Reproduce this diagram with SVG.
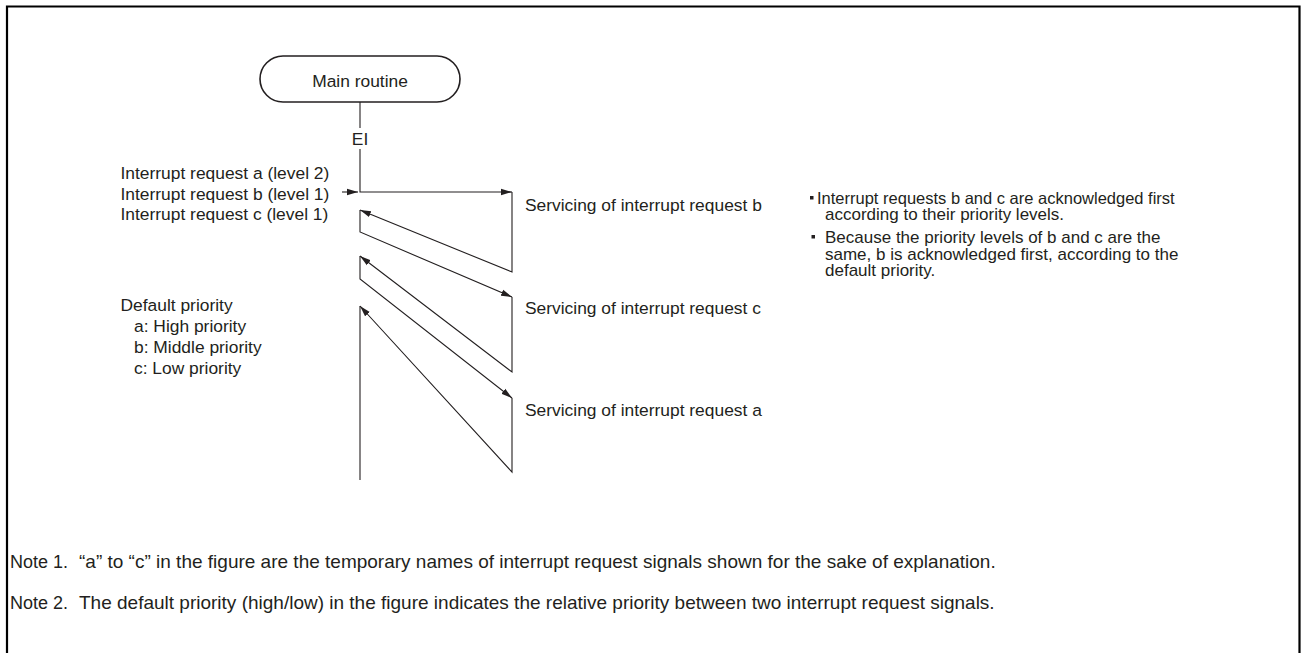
<svg xmlns="http://www.w3.org/2000/svg" width="1301" height="653" viewBox="0 0 1301 653">
<style>
text{font-family:"Liberation Sans",Arial,Helvetica,sans-serif;font-size:17.4px;fill:#231f20}
.b{font-size:17px}
.n{font-size:18px}
.nb{font-size:19px}
.c{stroke:#231f20;stroke-width:1.1;fill:none}
.frame{stroke:#000;stroke-width:2.2;fill:none}
.node{stroke:#231f20;stroke-width:1.6;fill:#fff}
</style>
<defs>
<marker id="ah" markerUnits="userSpaceOnUse" markerWidth="11" markerHeight="8" refX="11" refY="4" orient="auto">
<path d="M0,0.8 L11,4 L0,7.2 z" fill="#231f20"/>
</marker>
</defs>
<rect width="1301" height="653" fill="#fff"/>
<path class="frame" d="M7,653 V6.5 H1299.5 V653"/>
<g id="connectors">
<line class="c" x1="360" y1="102" x2="360" y2="128"/>
<path class="c" d="M360,149 V192 H512" marker-end="url(#ah)"/>
<path class="c" d="M342,192 H358" marker-end="url(#ah)"/>
<path class="c" d="M512,192 V272 L360,210" marker-end="url(#ah)"/>
<path class="c" d="M360,210 V232 L512,297" marker-end="url(#ah)"/>
<path class="c" d="M512,297 V372 L360,256" marker-end="url(#ah)"/>
<path class="c" d="M360,256 V279 L512,398" marker-end="url(#ah)"/>
<path class="c" d="M512,398 V472 L360,306" marker-end="url(#ah)"/>
<path class="c" d="M360,306 V480"/>
</g>
<g id="main-routine">
<rect class="node" x="260" y="56" width="200" height="46" rx="23" ry="23"/>
<text x="360" y="87" text-anchor="middle">Main routine</text>
</g>
<g id="ei">
<text x="360" y="145" text-anchor="middle">EI</text>
</g>
<g id="requests">
<text x="120.5" y="179">Interrupt request a (level 2)</text>
<text x="120.5" y="199.5">Interrupt request b (level 1)</text>
<text x="120.5" y="220">Interrupt request c (level 1)</text>
</g>
<g id="default-priority">
<text x="120.5" y="311">Default priority</text>
<text x="134" y="332">a: High priority</text>
<text x="134" y="353">b: Middle priority</text>
<text x="134" y="374">c: Low priority</text>
</g>
<g id="servicing-b"><text x="525" y="211">Servicing of interrupt request b</text></g>
<g id="servicing-c"><text x="525" y="314">Servicing of interrupt request c</text></g>
<g id="servicing-a"><text x="525" y="416">Servicing of interrupt request a</text></g>
<g id="remarks">
<rect x="810" y="196" width="3.5" height="3.5" fill="#231f20"/>
<text x="817" y="204" style="font-size:16.5px">Interrupt requests b and c are acknowledged first</text>
<text class="b" x="825" y="220">according to their priority levels.</text>
<rect x="811.5" y="235" width="3.5" height="3.5" fill="#231f20"/>
<text class="b" x="825" y="243">Because the priority levels of b and c are the</text>
<text class="b" x="825" y="259.5">same, b is acknowledged first, according to the</text>
<text class="b" x="825" y="276">default priority.</text>
</g>
<g id="notes">
<text class="n" x="10" y="568">Note 1.</text>
<text class="nb" x="79" y="568">“a” to “c” in the figure are the temporary names of interrupt request signals shown for the sake of explanation.</text>
<text class="n" x="10" y="609">Note 2.</text>
<text class="nb" x="79" y="609">The default priority (high/low) in the figure indicates the relative priority between two interrupt request signals.</text>
</g>
</svg>
